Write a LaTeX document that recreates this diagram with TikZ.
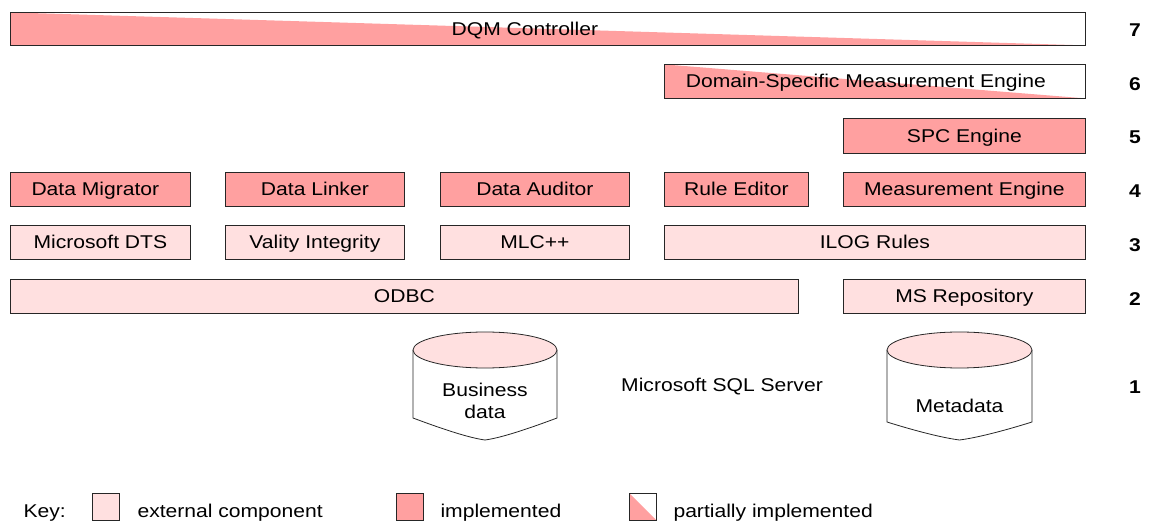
\documentclass[tikz,border=0pt]{standalone}
\usepackage{fontspec}
\setmainfont[FakeStretch=1.14]{Liberation Sans}
\definecolor{implc}{RGB}{255,160,160}
\definecolor{extc}{RGB}{255,224,224}
\begin{document}
\begin{tikzpicture}[x=1pt,y=-1pt,
  every node/.style={font=\fontsize{18.5}{22}\selectfont},
  box/.style={draw=black!85,line width=0.8pt,minimum height=34pt,inner sep=0pt,anchor=north west,text height=13pt,text depth=0pt},
  ext/.style={box,fill=extc},
  impl/.style={box,fill=implc},
  part/.style={box,fill=white,path picture={\fill[implc] (path picture bounding box.north west) -- (path picture bounding box.south west) -- (path picture bounding box.south east) -- cycle;}},
  lvl/.style={font=\fontsize{18.5}{22}\selectfont\bfseries},
  cyl/.style={draw=black!85,line width=0.8pt}
]
\useasboundingbox (0,0) rectangle (1149,526);
% row 7
\node[part,minimum width=1075pt,minimum height=33pt] (dqm) at (10,12) {\hspace*{0pt}DQM Controller\hspace*{46pt}};
% row 6
\node[part,minimum width=421pt] (dsme) at (664,64) {Domain-Specific Measurement Engine\hspace*{18pt}};
% row 5
\node[impl,minimum width=242pt,minimum height=35pt] (spc) at (843,118) {SPC Engine};
% row 4
\node[impl,minimum width=180pt] (mig) at (10,172) {Data Migrator\hspace*{10pt}};
\node[impl,minimum width=179pt] (lnk) at (225,172) {Data Linker};
\node[impl,minimum width=189pt] (aud) at (440,172) {Data Auditor};
\node[impl,minimum width=144pt] (red) at (664,172) {Rule Editor};
\node[impl,minimum width=242pt] (me) at (843,172) {Measurement Engine};
% row 3
\node[ext,minimum width=180pt] (dts) at (10,225) {Microsoft DTS};
\node[ext,minimum width=179pt] (vi) at (225,225) {Vality Integrity};
\node[ext,minimum width=189pt] (mlc) at (440,225) {MLC++};
\node[ext,minimum width=421pt] (ilog) at (664,225) {ILOG Rules};
% row 2
\node[ext,minimum width=788pt] (odbc) at (10,279) {ODBC};
\node[ext,minimum width=242pt] (msr) at (843,279) {MS Repository};
% row 1 cylinders
\fill[white] (413,350) -- (413,418) .. controls (445,430) and (470,438) .. (485,440) .. controls (500,438) and (525,430) .. (557,418) -- (557,350) -- cycle;
\draw[cyl] (413,350) -- (413,418) .. controls (445,430) and (470,438) .. (485,440) .. controls (500,438) and (525,430) .. (557,418) -- (557,350);
\draw[cyl,fill=extc] (485,350) ellipse[x radius=72,y radius=18];
\node[align=center] (bd) at (485,401) {Business\\data};
\draw[cyl] (887,350) -- (887,422) .. controls (919,432) and (944,438) .. (959.5,440) .. controls (975,438) and (1000,432) .. (1032,422) -- (1032,350);
\draw[cyl,fill=extc] (959.5,350) ellipse[x radius=72.5,y radius=18];
\node (md) at (959.5,406) {Metadata};
\node (sql) at (722,387) {Microsoft SQL Server};
% level numbers
\node[lvl] (l7) at (1135,30) {7};
\node[lvl] (l6) at (1135,84) {6};
\node[lvl] (l5) at (1135,137) {5};
\node[lvl] (l4) at (1135,191) {4};
\node[lvl] (l3) at (1135,245) {3};
\node[lvl] (l2) at (1135,299) {2};
\node[lvl] (l1) at (1135,387) {1};
% key
\node[anchor=west] (key) at (20,513) {Key:};
\node[ext,minimum width=27pt,minimum height=27pt] (k1) at (92,493) {};
\node[anchor=west] (k1t) at (134,513) {external component};
\node[impl,minimum width=27pt,minimum height=27pt] (k2) at (396,493) {};
\node[anchor=west] (k2t) at (437,513) {implemented};
\node[part,minimum width=27pt,minimum height=27pt] (k3) at (629,493) {};
\node[anchor=west] (k3t) at (670,513) {partially implemented};
\end{tikzpicture}
\end{document}
